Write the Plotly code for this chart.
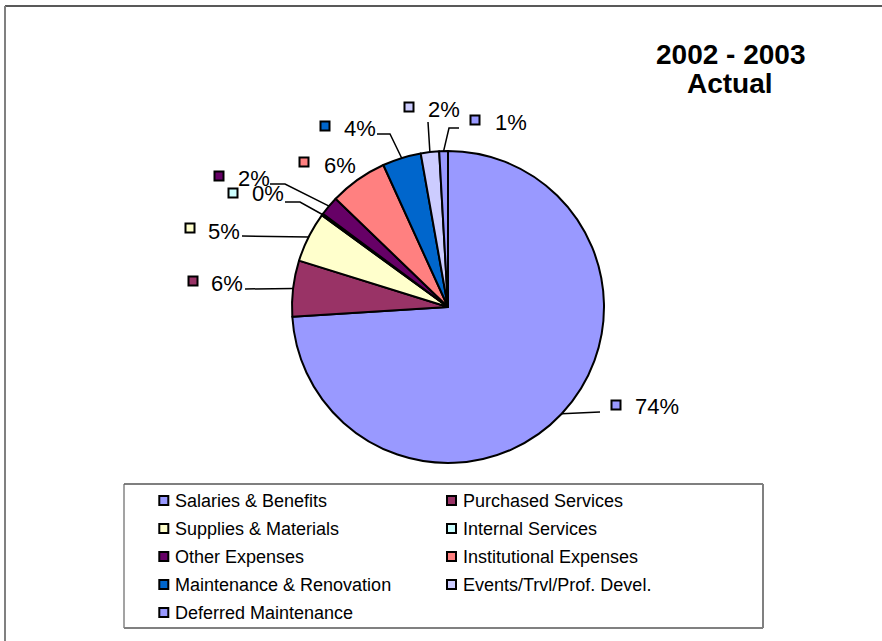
import math
import plotly.graph_objects as go

# Figure size in pixels (margins are zero, so paper coords map 1:1 to pixels)
W, H = 882, 641

# ---- data ----
categories = [
    "Salaries & Benefits",
    "Purchased Services",
    "Supplies & Materials",
    "Internal Services",
    "Other Expenses",
    "Institutional Expenses",
    "Maintenance & Renovation",
    "Events/Trvl/Prof. Devel.",
    "Deferred Maintenance",
]
shares = [74.0, 5.8, 5.2, 0.2, 2.0, 6.0, 4.0, 1.9, 0.9]
colors = ["#9999FF", "#993366", "#FFFFCC", "#CCFFFF", "#660066",
          "#FF8080", "#0066CC", "#CCCCFF", "#9999FF"]
title_lines = ["2002 - 2003", "Actual"]

# ---- layout (pixels) ----
CX, CY, R = 448, 307, 156
FONT = "Liberation Sans, Arial, sans-serif"

# per slice: square centre, text anchor (left, middle), leader points from label side
label_layout = [
    (616, 405, 633, 406, [(600, 412)]),
    (193, 281, 209, 283, [(245, 289)]),
    (190, 228, 206, 231, [(242, 236)]),
    (233, 193, 250, 194, [(285, 202), (300, 202)]),
    (219, 176, 236, 178, [(270, 184), (285, 184)]),
    (304, 162, 322, 165, []),
    (325, 126, 342, 129, [(377, 134), (390, 134)]),
    (409, 107, 426, 110, [(428, 122)]),
    (475, 120, 493, 122, [(459, 128), (449, 128)]),
]

LEG_BOX = (124, 484, 763, 628)
LEG_COLS = [(163.8, 173), (451.5, 461)]
LEG_ROW0, LEG_DY = 500.5, 28


def px(x):
    return x / W


def py(y):
    return 1 - y / H


def square(cx, cy, color, half=4.5):
    return dict(type="rect", xref="paper", yref="paper",
                x0=px(cx - half), x1=px(cx + half),
                y0=py(cy + half), y1=py(cy - half),
                fillcolor=color, line=dict(color="black", width=2))


def hline(x0, y0, x1, y1, color, width):
    return dict(type="line", xref="paper", yref="paper",
                x0=px(x0), y0=py(y0), x1=px(x1), y1=py(y1),
                line=dict(color=color, width=width))


fig = go.Figure(go.Pie(
    labels=categories,
    values=shares,
    sort=False,
    direction="clockwise",
    rotation=0,
    marker=dict(colors=colors, line=dict(color="black", width=2)),
    textinfo="none",
    hoverinfo="label+percent",
    showlegend=False,
    domain=dict(x=[px(CX - R), px(CX + R)], y=[py(CY + R), py(CY - R)]),
))

shapes = []
annotations = []

# outer chart frame (top and left edges)
shapes.append(hline(5, 6, 882, 6, "#222222", 1.5))
shapes.append(hline(5, 6, 5, 641, "#808080", 2))

# percentage labels with leader lines to the slice mid-angle on the rim
total = sum(shares)
cum = 0.0
for i, v in enumerate(shares):
    mid = 2 * math.pi * (cum + v / 2) / total
    cum += v
    ex = CX + R * math.sin(mid)
    ey = CY - R * math.cos(mid)
    sx, sy, tx, ty, pts = label_layout[i]
    pct = round(v / total * 100)
    annotations.append(dict(
        x=px(tx), y=py(ty), xref="paper", yref="paper",
        xanchor="left", yanchor="middle", showarrow=False,
        text=f"{pct}%", font=dict(family=FONT, size=22, color="black")))
    shapes.append(square(sx, sy, colors[i]))
    if pts:
        path_pts = pts + [(ex, ey)]
        d = "M " + " L ".join(f"{px(x):.5f},{py(y):.5f}" for x, y in path_pts)
        shapes.append(dict(type="path", xref="paper", yref="paper", path=d,
                           line=dict(color="black", width=1.5)))

# title
for j, line in enumerate(title_lines):
    annotations.append(dict(
        x=px(730), y=py(55 + 28 * j), xref="paper", yref="paper",
        xanchor="center", yanchor="middle", showarrow=False,
        text=f"<b>{line}</b>", font=dict(family=FONT, size=28, color="black")))

# legend box
lx0, ly0, lx1, ly1 = LEG_BOX
shapes.append(hline(lx0, ly0, lx1, ly0, "black", 1.2))
shapes.append(hline(lx0, ly0, lx0, ly1, "#666666", 1.2))
shapes.append(hline(lx1, ly0, lx1, ly1, "#808080", 2))
shapes.append(hline(lx0, ly1, lx1, ly1, "#808080", 2))

# legend entries, two per row
for i, name in enumerate(categories):
    row, col = divmod(i, 2)
    sqx, tx = LEG_COLS[col]
    yc = LEG_ROW0 + LEG_DY * row
    shapes.append(square(sqx, yc, colors[i], half=4.5))
    annotations.append(dict(
        x=px(tx), y=py(yc), xref="paper", yref="paper",
        xanchor="left", yanchor="middle", showarrow=False,
        text=name, font=dict(family=FONT, size=18, color="black")))

fig.update_layout(
    width=W, height=H,
    margin=dict(l=0, r=0, t=0, b=0),
    paper_bgcolor="white", plot_bgcolor="white",
    shapes=shapes, annotations=annotations,
)

fig.write_html("out.html")
